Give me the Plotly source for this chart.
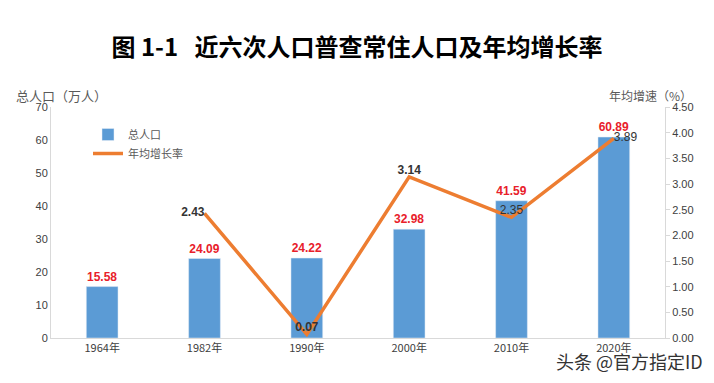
import plotly.graph_objects as go

years = ["1964年", "1982年", "1990年", "2000年", "2010年", "2020年"]
population = [15.58, 24.09, 24.22, 32.98, 41.59, 60.89]
growth_rate = [None, 2.43, 0.07, 3.14, 2.35, 3.89]
rate_label_pos = ["top center", "middle left", "top center", "top center", "top center", "middle right"]

FONT = "Noto Sans CJK SC, Noto Sans, sans-serif"

fig = go.Figure()
fig.add_trace(go.Bar(
    x=years, y=population, name="总人口",
    marker_color="#5B9BD5", width=0.31,
    text=[f"{v:.2f}" for v in population], textposition="outside",
    textfont=dict(color="#E8202A", size=12, family="Liberation Sans"),
    texttemplate="<b>%{text}</b>", cliponaxis=False,
))
fig.add_trace(go.Scatter(
    x=years, y=growth_rate, name="年均增长率", yaxis="y2",
    mode="lines+text", line=dict(color="#ED7D31", width=3.5),
    text=[("" if v is None else (f"{v:.2f}" if v in (2.35, 3.89) else f"<b>{v:.2f}</b>")) for v in growth_rate],
    textposition=rate_label_pos,
    textfont=dict(color="#333333", size=12, family="Liberation Sans"),
    cliponaxis=False, connectgaps=False,
))

L, R, T, B = 51, 49, 107, 45
W, H = 714, 383
pw = W - L - R
ph = H - T - B
def px(x): return (x - L) / pw
def py(y): return (H - B - y) / ph

fig.update_layout(
    width=W, height=H,
    margin=dict(l=L, r=R, t=T, b=B, autoexpand=False),
    paper_bgcolor="white", plot_bgcolor="white",
    font=dict(family=FONT, color="#595959", size=11),
    title=dict(text="<b>图 1-1&nbsp;&nbsp;&nbsp;近六次人口普查常住人口及年均增长率</b>",
               x=0.5, xanchor="center", y=1 - 48 / H, yanchor="middle",
               font=dict(size=24, color="#000000", family=FONT)),
    showlegend=True,
    legend=dict(x=px(88), y=py(120), xanchor="left", yanchor="top",
                bgcolor="rgba(0,0,0,0)", font=dict(size=11, color="#595959"),
                itemwidth=30, tracegroupgap=0),
    xaxis=dict(showline=True, linecolor="#D9D9D9", linewidth=1, ticks="",
               tickfont=dict(size=11, color="#404040", family=FONT), showgrid=False),
    yaxis=dict(range=[0, 70], dtick=10, showline=True, linecolor="#D9D9D9",
               showgrid=False, zeroline=False, ticks="",
               tickfont=dict(size=11, color="#404040", family="Liberation Sans")),
    yaxis2=dict(range=[0, 4.5], dtick=0.5, tickformat=".2f", overlaying="y", side="right",
                showline=True, linecolor="#D9D9D9", showgrid=False, zeroline=False,
                ticks="outside", ticklen=4, tickcolor="#D9D9D9",
                tickfont=dict(size=11, color="#404040", family="Liberation Sans")),
)

fig.add_annotation(text="总人口（万人）", x=px(14), y=py(95), xref="paper", yref="paper",
                   xanchor="left", yanchor="middle", showarrow=False,
                   font=dict(size=13, color="#595959", family=FONT))
fig.add_annotation(text="年均增速（%）", x=px(607), y=py(95), xref="paper", yref="paper",
                   xanchor="left", yanchor="middle", showarrow=False,
                   font=dict(size=12, color="#595959", family=FONT))
fig.add_annotation(text="头条 @官方指定ID", x=px(705), y=py(361), xref="paper", yref="paper",
                   xanchor="right", yanchor="middle", showarrow=False,
                   font=dict(size=18, color="#333333", family=FONT))

fig.write_html("out.html", config={"displayModeBar": False},
               post_script="document.body.style.margin='0px';document.body.style.overflow='hidden';")
